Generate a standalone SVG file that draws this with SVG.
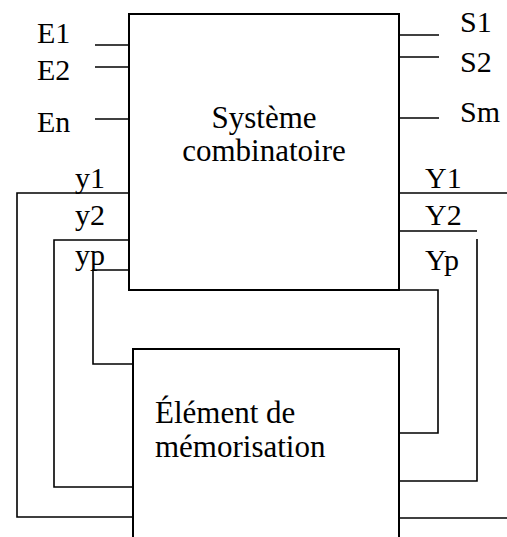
<svg xmlns="http://www.w3.org/2000/svg" width="507" height="537" viewBox="0 0 507 537">
  <style>
    .box { fill: none; stroke: #000; stroke-width: 2; }
    .wire { fill: none; stroke: #000; stroke-width: 1.6; }
    text { font-family: "Liberation Serif", "DejaVu Serif", "Times New Roman", serif; fill: #000; }
    .lbl { font-size: 30px; }
    .title { font-size: 31px; }
  </style>
  <rect width="507" height="537" fill="#fff"/>

  <!-- combinational block -->
  <g id="systeme-combinatoire">
    <rect class="box" x="129" y="14" width="270" height="276"/>
    <text class="title" x="264" y="128" text-anchor="middle" font-family="Liberation Serif, serif">Système</text>
    <text class="title" x="264" y="161" text-anchor="middle" font-family="Liberation Serif, serif">combinatoire</text>
  </g>

  <!-- memory block (runs past the bottom edge) -->
  <g id="element-memorisation">
    <path class="box" d="M133,545 V349 H399 V545"/>
    <text class="title" x="155" y="423" font-family="Liberation Serif, serif">Élément de</text>
    <text class="title" x="155" y="457" font-family="Liberation Serif, serif">mémorisation</text>
  </g>

  <!-- primary inputs / outputs -->
  <g id="entrees" font-family="Liberation Serif, serif">
    <text class="lbl" x="37" y="43">E1</text>
    <text class="lbl" x="37" y="80">E2</text>
    <text class="lbl" x="37" y="132">En</text>
  </g>
  <g id="sorties" font-family="Liberation Serif, serif">
    <text class="lbl" x="460" y="32">S1</text>
    <text class="lbl" x="460" y="72">S2</text>
    <text class="lbl" x="460" y="122">Sm</text>
  </g>

  <!-- state variable labels -->
  <g id="etats" font-family="Liberation Serif, serif">
    <text class="lbl" x="75" y="188">y1</text>
    <text class="lbl" x="75" y="225">y2</text>
    <text class="lbl" x="75" y="265">yp</text>
    <text class="lbl" x="425" y="188">Y1</text>
    <text class="lbl" x="425" y="225">Y2</text>
    <text class="lbl" x="425" y="270">Yp</text>
  </g>

  <g id="connecteurs">
    <!-- inputs -->
    <path class="wire" d="M95,45 H129"/>
    <path class="wire" d="M95,67 H129"/>
    <path class="wire" d="M95,119 H129"/>
    <!-- outputs -->
    <path class="wire" d="M399,35 H439"/>
    <path class="wire" d="M399,57 H439"/>
    <path class="wire" d="M399,118 H439"/>
    <!-- present state y (memory -> combinational) -->
    <path class="wire" d="M129,193 H17 V517 H133"/>
    <path class="wire" d="M129,240 H54 V487 H133"/>
    <path class="wire" d="M129,270 H93 V364 H133"/>
    <!-- next state Y (combinational -> memory) -->
    <path class="wire" d="M399,193 H507"/>
    <path class="wire" d="M507,518 H399"/>
    <path class="wire" d="M399,231 H477 M477,239 V481 H399"/>
    <path class="wire" d="M399,290 H438 V433 H399"/>
  </g>
</svg>
